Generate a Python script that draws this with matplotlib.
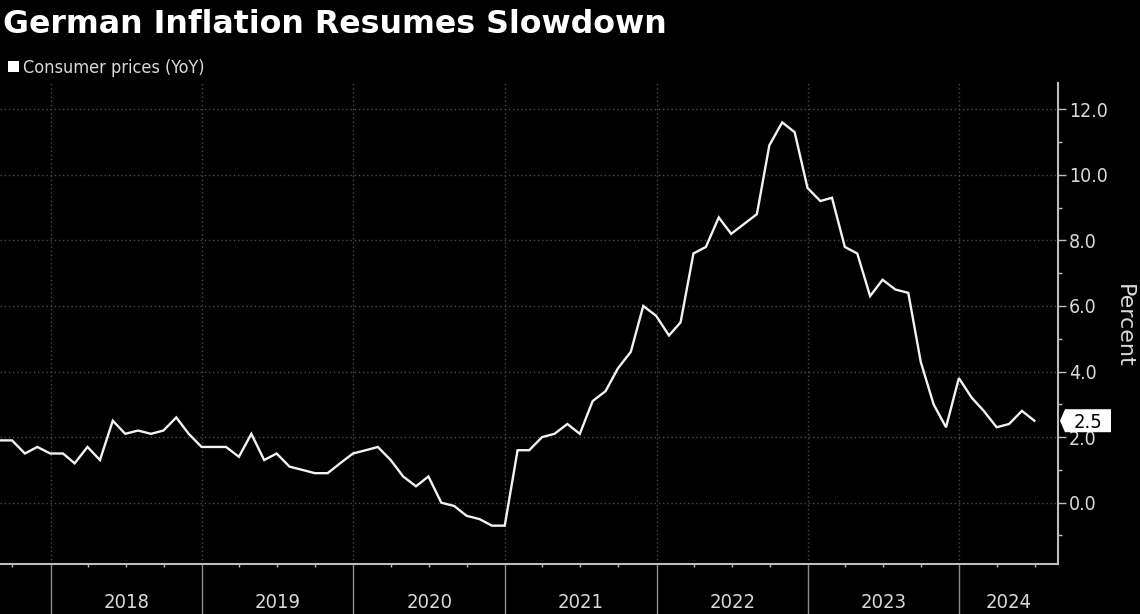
import os
import matplotlib
matplotlib.use("Agg")
import matplotlib.pyplot as plt
import matplotlib.dates as mdates
import matplotlib.transforms as mtransforms
from matplotlib.patches import Polygon, Rectangle
from matplotlib.ticker import MultipleLocator, FormatStrFormatter
from matplotlib import font_manager as fm
import pandas as pd

# ---------------- data ----------------
title = "German Inflation Resumes Slowdown"
series_name = "Consumer prices (YoY)"
y_label = "Percent"
first_month = "2017-08-01"
values_2017 = [1.9, 1.9, 1.5, 1.7, 1.5]                      # Aug-Dec
values_2018 = [1.5, 1.2, 1.7, 1.3, 2.5, 2.1, 2.2, 2.1, 2.2, 2.6, 2.1, 1.7]
values_2019 = [1.7, 1.7, 1.4, 2.1, 1.3, 1.5, 1.1, 1.0, 0.9, 0.9, 1.2, 1.5]
values_2020 = [1.6, 1.7, 1.3, 0.8, 0.5, 0.8, 0.0, -0.1, -0.4, -0.5, -0.7, -0.7]
values_2021 = [1.6, 1.6, 2.0, 2.1, 2.4, 2.1, 3.1, 3.4, 4.1, 4.6, 6.0, 5.7]
values_2022 = [5.1, 5.5, 7.6, 7.8, 8.7, 8.2, 8.5, 8.8, 10.9, 11.6, 11.3, 9.6]
values_2023 = [9.2, 9.3, 7.8, 7.6, 6.3, 6.8, 6.5, 6.4, 4.3, 3.0, 2.3, 3.8]
values_2024 = [3.2, 2.8, 2.3, 2.4, 2.8, 2.5]                 # Jan-Jun
year_labels = ["2018", "2019", "2020", "2021", "2022", "2023", "2024"]
y_ticks = [0, 2, 4, 6, 8, 10, 12]
x_start = "2017-09-01"
x_end = "2024-08-26"
y_min, y_max = -1.87, 12.8

values = (values_2017 + values_2018 + values_2019 + values_2020 +
          values_2021 + values_2022 + values_2023 + values_2024)
dates = pd.date_range(first_month, periods=len(values), freq="MS") + pd.offsets.MonthEnd(0)

# ---------------- fonts ----------------
cond_path = None
for f in fm.fontManager.ttflist:
    b = os.path.basename(f.fname)
    if b == "DejaVuSansCondensed.ttf":
        cond_path = f.fname
        break
if cond_path:
    def small_font(size):
        return fm.FontProperties(fname=cond_path, size=size)
else:
    def small_font(size):
        return fm.FontProperties(family="DejaVu Sans", size=size * 0.9)

W, H = 1140, 614
fig = plt.figure(figsize=(W / 100, H / 100), dpi=100, facecolor="black")
ax = fig.add_axes([0, 50 / H, 1058 / W, 481 / H], facecolor="black")

txt_col = "#d9d9d9"
grid_col = "#4a4a4a"
spine_col = "#bdbdbd"

ax.plot(dates, values, color="#f2f2f2", lw=1.7, solid_joinstyle="miter", zorder=3)

ax.set_xlim(pd.Timestamp(x_start), pd.Timestamp(x_end))
ax.set_ylim(y_min, y_max)

# y axis on right
ax.yaxis.tick_right()
ax.set_yticks(y_ticks)
ax.yaxis.set_minor_locator(MultipleLocator(1))
ax.yaxis.set_major_formatter(FormatStrFormatter("%.1f"))
ax.tick_params(axis="y", which="major", length=6, width=1, color=spine_col,
               pad=2, labelcolor=txt_col)
ax.tick_params(axis="y", which="minor", length=3, width=1, color=spine_col)
for lab in ax.get_yticklabels():
    lab.set_fontproperties(small_font(14))

# x axis: year separators + quarterly minor ticks
ax.xaxis.set_major_locator(mdates.YearLocator())
ax.xaxis.set_minor_locator(mdates.MonthLocator(bymonth=[1, 4, 7, 10]))
ax.xaxis.set_major_formatter(plt.NullFormatter())
ax.tick_params(axis="x", which="major", length=36, width=1, color="#8c8c8c")
ax.tick_params(axis="x", which="minor", length=2.5, width=1, color=spine_col)

ax.grid(True, which="major", axis="both", color=grid_col, lw=1,
        linestyle=(0, (1, 2)))
ax.set_axisbelow(True)

for s in ["left", "top"]:
    ax.spines[s].set_visible(False)
for s in ["right", "bottom"]:
    ax.spines[s].set_color(spine_col)
    ax.spines[s].set_linewidth(1.5)

# year labels centred in each visible year
trans_xa = mtransforms.blended_transform_factory(ax.transData, ax.transAxes)
xl0, xl1 = ax.get_xlim()
for lab in year_labels:
    y0 = mdates.date2num(pd.Timestamp(f"{lab}-01-01"))
    y1 = mdates.date2num(pd.Timestamp(f"{int(lab) + 1}-01-01"))
    a, b = max(y0, xl0), min(y1, xl1)
    ax.text((a + b) / 2, -38 / 481, lab, transform=trans_xa, ha="center",
            va="center", color=txt_col, fontproperties=small_font(14.5))

# title and legend
fig.text(3 / W, 1 - 33 / H, title, color="white", fontsize=22.8,
         fontweight="bold", family="DejaVu Sans", ha="left", va="baseline")
fig.add_artist(Rectangle((8 / W, 1 - 72 / H), 11 / W, 11 / H,
                         transform=fig.transFigure, facecolor="white",
                         edgecolor="none"))
fig.text(23 / W, 1 - 73 / H, series_name, color=txt_col,
         fontproperties=small_font(13), ha="left", va="baseline")

# axis label
fig.text(1124 / W, 1 - 326 / H, y_label, rotation=270, color=txt_col,
         fontsize=16, family="DejaVu Sans", ha="center", va="center")

# last-value tag
last = values[-1]
trans_ay = mtransforms.blended_transform_factory(ax.transAxes, ax.transData)
axp, ayp = trans_ay.transform((1.0, last))
hh = 11.5
verts = [(axp + 2, ayp), (axp + 7, ayp + hh), (axp + 53, ayp + hh),
         (axp + 53, ayp - hh), (axp + 7, ayp - hh)]
fig.add_artist(Polygon(verts, closed=True, transform=mtransforms.IdentityTransform(),
                       facecolor="white", edgecolor="none", zorder=5))
fig.text(axp + 30, ayp, f"{last:.1f}", transform=mtransforms.IdentityTransform(),
         color="black", fontproperties=small_font(14.5), ha="center",
         va="center_baseline", zorder=6)

fig.savefig("out.png", dpi=100, facecolor="black")
